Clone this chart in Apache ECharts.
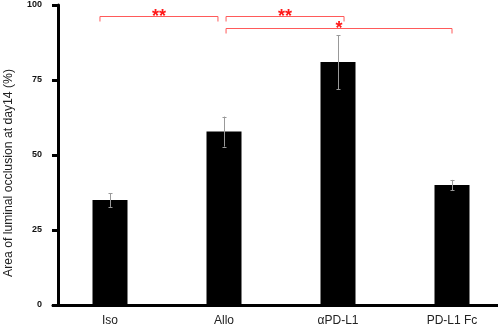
<!DOCTYPE html>
<html>
<head>
<meta charset="utf-8">
<script src="https://cdn.jsdelivr.net/npm/echarts@6/dist/echarts.min.js"></script>
<style>
html,body{margin:0;padding:0;background:#fff;}
#chart{width:498px;height:327px;}
</style>
</head>
<body>
<div id="chart"></div>
<script>
// ---- data ----
var categories = ['Iso', 'Allo', 'αPD-L1', 'PD-L1 Fc'];
var meanValues = [35.0, 57.8, 81.0, 40.0];
var errorValues = [2.3, 5.0, 9.0, 1.7];
var yTicks = [0, 25, 50, 75, 100];
var yAxisTitle = 'Area of luminal occlusion at day14 (%)';
// significance brackets: from category index, to category index, bracket height (value), label
var bracketFrom = [0, 1, 1];
var bracketTo = [1, 2, 3];
var bracketLevel = [96.4, 96.3, 92.4];
var bracketLabel = ['**', '**', '*'];

var FONT = "'Liberation Sans', Arial, sans-serif";
var chart = echarts.init(document.getElementById('chart'), null, {renderer: 'canvas'});

var errData = categories.map(function (c, i) {
  return [i, meanValues[i] - errorValues[i], meanValues[i] + errorValues[i]];
});
var brData = bracketFrom.map(function (f, i) {
  return [f, bracketTo[i], bracketLevel[i], i];
});
// horizontal end offsets of bracket ends, as fraction of category width (style)
var brStartShift = [-0.088, 0.018, 0.018];
var brEndShift = [-0.053, 0.053, 0.0];

chart.setOption({
  animation: false,
  backgroundColor: '#ffffff',
  grid: {left: 53, top: 5, width: 456, height: 300, containLabel: false, outerBoundsMode: 'none'},
  xAxis: {
    type: 'category',
    data: categories,
    axisLine: {show: true, lineStyle: {color: '#000', width: 3}},
    axisTick: {show: false},
    axisLabel: {color: '#222', fontSize: 12, fontFamily: FONT, margin: 10}
  },
  yAxis: {
    type: 'value',
    min: yTicks[0],
    max: yTicks[yTicks.length - 1],
    interval: yTicks[1] - yTicks[0],
    offset: -5,
    name: yAxisTitle,
    nameLocation: 'middle',
    nameGap: 43,
    nameTextStyle: {color: '#222', fontSize: 12.2, fontFamily: FONT, padding: [0, 36, 0, 0]},
    axisLine: {show: true, lineStyle: {color: '#000', width: 3}},
    axisTick: {show: true, inside: false, length: 6, lineStyle: {color: '#000', width: 3}},
    axisLabel: {color: '#111', fontSize: 9, fontWeight: 'bold', fontFamily: FONT, margin: 16},
    splitLine: {show: false}
  },
  series: [
    {
      type: 'bar',
      data: meanValues,
      barWidth: 35,
      itemStyle: {color: '#000'},
      z: 2
    },
    {
      type: 'custom',
      data: errData,
      z: 3,
      renderItem: function (params, api) {
        var i = api.value(0);
        var lo = api.coord([i, api.value(1)]);
        var hi = api.coord([i, api.value(2)]);
        var x = Math.round(lo[0]) + 0.5;
        var cap = 2;
        var st = {stroke: '#999', lineWidth: 1};
        return {
          type: 'group',
          children: [
            {type: 'line', shape: {x1: x, y1: hi[1], x2: x, y2: lo[1]}, style: st},
            {type: 'line', shape: {x1: x - cap, y1: Math.round(hi[1]) + 0.5, x2: x + cap, y2: Math.round(hi[1]) + 0.5}, style: st},
            {type: 'line', shape: {x1: x - cap, y1: Math.round(lo[1]) + 0.5, x2: x + cap, y2: Math.round(lo[1]) + 0.5}, style: st}
          ]
        };
      }
    },
    {
      type: 'custom',
      data: brData,
      z: 4,
      renderItem: function (params, api) {
        var k = api.value(3);
        var w = api.size([1, 0])[0];
        var a = api.coord([api.value(0), api.value(2)]);
        var b = api.coord([api.value(1), api.value(2)]);
        var x1 = a[0] + brStartShift[k] * w;
        var x2 = b[0] + brEndShift[k] * w;
        var y = Math.round(a[1]) + 0.5;
        var leg = 5;
        var st = {stroke: '#ff5a5a', lineWidth: 1, fill: null};
        return {
          type: 'group',
          children: [
            {type: 'polyline', shape: {points: [[x1, y + leg], [x1, y], [x2, y], [x2, y + leg]]}, style: st},
            {type: 'text', z2: 10, style: {
              text: bracketLabel[k], x: (x1 + x2) / 2, y: y + 0.5,
              align: 'center', verticalAlign: 'middle',
              fill: '#ff1a1a', font: 'bold 18px ' + FONT
            }}
          ]
        };
      }
    }
  ]
});
</script>
</body>
</html>
